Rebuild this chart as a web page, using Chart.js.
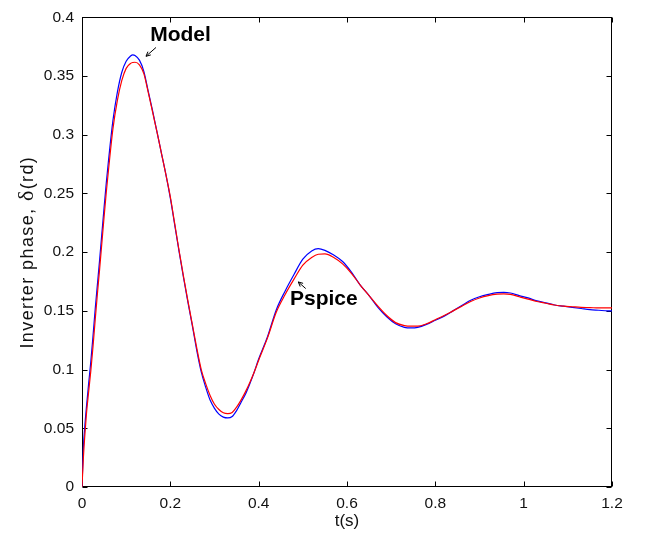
<!DOCTYPE html>
<html>
<head>
<meta charset="utf-8">
<script src="https://cdn.jsdelivr.net/npm/chart.js@4/dist/chart.umd.min.js"></script>
<style>
html,body{margin:0;padding:0;background:#fff;}
canvas{display:block;}
</style>
</head>
<body>
<canvas id="c" width="650" height="542"></canvas>
<script>
// Time base (s)
const time = [0, 0.003, 0.006, 0.01, 0.015, 0.02, 0.025, 0.03, 0.035, 0.04, 0.045, 0.05, 0.055, 0.06, 0.07, 0.08, 0.09, 0.1, 0.11, 0.115, 0.12, 0.13, 0.14, 0.15, 0.16, 0.17, 0.18, 0.19, 0.2, 0.21, 0.22, 0.23, 0.24, 0.25, 0.26, 0.27, 0.28, 0.29, 0.3, 0.31, 0.32, 0.33, 0.34, 0.35, 0.36, 0.37, 0.38, 0.39, 0.4, 0.42, 0.44, 0.46, 0.48, 0.5, 0.52, 0.535, 0.55, 0.57, 0.59, 0.61, 0.63, 0.65, 0.67, 0.69, 0.71, 0.73, 0.745, 0.76, 0.78, 0.8, 0.82, 0.84, 0.86, 0.88, 0.9, 0.92, 0.94, 0.955, 0.97, 0.99, 1.01, 1.03, 1.05, 1.07, 1.09, 1.11, 1.13, 1.15, 1.17, 1.19, 1.2];

// Inverter phase (rd) from the analytical model
const modelPhase = [0, 0.033, 0.05, 0.068, 0.088, 0.107, 0.129, 0.152, 0.173, 0.194, 0.216, 0.238, 0.259, 0.278, 0.312, 0.336, 0.353, 0.3625, 0.367, 0.368, 0.3675, 0.3635, 0.354, 0.337, 0.32, 0.302, 0.284, 0.266, 0.246, 0.223, 0.2, 0.178, 0.157, 0.137, 0.116, 0.098, 0.085, 0.074, 0.067, 0.062, 0.0595, 0.0588, 0.06, 0.065, 0.072, 0.079, 0.088, 0.098, 0.109, 0.128, 0.151, 0.167, 0.181, 0.194, 0.201, 0.203, 0.2015, 0.1975, 0.192, 0.183, 0.172, 0.163, 0.153, 0.145, 0.139, 0.136, 0.1355, 0.136, 0.1385, 0.142, 0.1455, 0.15, 0.1545, 0.159, 0.162, 0.164, 0.1655, 0.1658, 0.1652, 0.163, 0.161, 0.1585, 0.1568, 0.155, 0.154, 0.153, 0.152, 0.151, 0.1505, 0.150, 0.150];

// Inverter phase (rd) from the Pspice simulation
const pspicePhase = [0, 0.024, 0.042, 0.062, 0.081, 0.099, 0.12, 0.143, 0.165, 0.186, 0.208, 0.23, 0.251, 0.27, 0.305, 0.329, 0.346, 0.3565, 0.3607, 0.3615, 0.3617, 0.3595, 0.352, 0.336, 0.319, 0.302, 0.284, 0.266, 0.247, 0.224, 0.201, 0.179, 0.158, 0.138, 0.118, 0.1, 0.088, 0.078, 0.0705, 0.066, 0.0632, 0.0625, 0.0635, 0.068, 0.074, 0.081, 0.089, 0.098, 0.108, 0.127, 0.149, 0.164, 0.177, 0.189, 0.1955, 0.1982, 0.1985, 0.1955, 0.19, 0.182, 0.172, 0.163, 0.154, 0.146, 0.14, 0.1375, 0.137, 0.137, 0.139, 0.1425, 0.146, 0.15, 0.154, 0.158, 0.161, 0.163, 0.1642, 0.1645, 0.164, 0.162, 0.16, 0.158, 0.1565, 0.155, 0.154, 0.1535, 0.153, 0.1528, 0.1525, 0.1525, 0.1525];

const xTicks = [0, 0.2, 0.4, 0.6, 0.8, 1, 1.2];
const xTickLabels = ['0', '0.2', '0.4', '0.6', '0.8', '1', '1.2'];
const yTicks = [0, 0.05, 0.1, 0.15, 0.2, 0.25, 0.3, 0.35, 0.4];
const yTickLabels = ['0', '0.05', '0.1', '0.15', '0.2', '0.25', '0.3', '0.35', '0.4'];

const seriesNames = ['Model', 'Pspice'];
const xTitle = 't(s)';
const yTitleParts = ['Inverter phase, ', '\u03B4', '(rd)'];

// Callouts in data units: label anchor (centre, baseline) and arrow tail -> head
const callouts = [
  { text: seriesNames[0], at: [0.223, 0.3794], from: [0.1675, 0.3743], to: [0.1449, 0.3668] },
  { text: seriesNames[1], at: [0.5475, 0.1549], from: [0.5065, 0.169], to: [0.4897, 0.1746] }
];

const SANS = '"Liberation Sans", Arial, Helvetica, sans-serif';

const framePlugin = {
  id: 'frame',
  beforeDatasetsDraw(chart) {
    const { ctx, chartArea: a, scales: { x, y } } = chart;
    const L = Math.round(a.left) + 0.5, R = Math.round(a.right) - 0.5;
    const T = Math.round(a.top) + 0.5, B = Math.round(a.bottom) - 0.5;
    const tl = 5;
    ctx.save();
    ctx.strokeStyle = '#000';
    ctx.lineWidth = 1;
    ctx.strokeRect(L, T, R - L, B - T);
    ctx.beginPath();
    xTicks.forEach(v => {
      const px = Math.round(x.getPixelForValue(v)) + 0.5;
      ctx.moveTo(px, B); ctx.lineTo(px, B - tl);
      ctx.moveTo(px, T); ctx.lineTo(px, T + tl);
    });
    yTicks.forEach(v => {
      const py = Math.round(y.getPixelForValue(v)) + 0.5;
      ctx.moveTo(L, py); ctx.lineTo(L + tl, py);
      ctx.moveTo(R, py); ctx.lineTo(R - tl, py);
    });
    ctx.stroke();
    ctx.restore();
  },
  afterDatasetsDraw(chart) {
    const { ctx, chartArea: a, scales: { x, y } } = chart;
    ctx.save();
    // callouts
    ctx.fillStyle = '#000';
    ctx.strokeStyle = '#000';
    ctx.lineWidth = 1;
    ctx.font = 'bold 21px ' + SANS;
    ctx.textAlign = 'center';
    ctx.textBaseline = 'alphabetic';
    callouts.forEach(c => {
      ctx.fillText(c.text, x.getPixelForValue(c.at[0]), y.getPixelForValue(c.at[1]));
      const x0 = x.getPixelForValue(c.from[0]), y0 = y.getPixelForValue(c.from[1]);
      const x1 = x.getPixelForValue(c.to[0]), y1 = y.getPixelForValue(c.to[1]);
      const ang = Math.atan2(y1 - y0, x1 - x0);
      const h = 5;
      ctx.beginPath();
      ctx.moveTo(x0, y0); ctx.lineTo(x1, y1);
      ctx.moveTo(x1 - h * Math.cos(ang - 0.45), y1 - h * Math.sin(ang - 0.45));
      ctx.lineTo(x1, y1);
      ctx.lineTo(x1 - h * Math.cos(ang + 0.45), y1 - h * Math.sin(ang + 0.45));
      ctx.stroke();
    });
    // x axis title
    ctx.font = '17px ' + SANS;
    ctx.fillStyle = '#111';
    ctx.fillText(xTitle, (a.left + a.right) / 2, a.bottom + 38.5);
    // y axis title, mixed fonts
    const fonts = ['18px ' + SANS, '22px "Liberation Serif", "DejaVu Serif", serif', '18px ' + SANS];
    ctx.letterSpacing = '1.4px';
    const widths = yTitleParts.map((s, i) => { ctx.font = fonts[i]; return ctx.measureText(s).width; });
    const total = widths.reduce((p, w) => p + w, 0);
    ctx.translate(a.left - 49, (a.top + a.bottom) / 2);
    ctx.rotate(-Math.PI / 2);
    ctx.textAlign = 'left';
    let cx = -total / 2;
    yTitleParts.forEach((s, i) => {
      ctx.font = fonts[i];
      ctx.fillText(s, cx, 0);
      cx += widths[i];
    });
    ctx.restore();
  }
};

const tickFont = { family: SANS, size: 15.5 };

new Chart(document.getElementById('c').getContext('2d'), {
  type: 'line',
  data: {
    datasets: [
      {
        label: seriesNames[0],
        data: time.map((t, i) => ({ x: t, y: modelPhase[i] })),
        borderColor: '#0000ff',
        borderWidth: 1.2,
        pointRadius: 0,
        cubicInterpolationMode: 'monotone',
        order: 1
      },
      {
        label: seriesNames[1],
        data: time.map((t, i) => ({ x: t, y: pspicePhase[i] })),
        borderColor: '#ff0000',
        borderWidth: 1.2,
        pointRadius: 0,
        cubicInterpolationMode: 'monotone',
        order: 0
      }
    ]
  },
  options: {
    responsive: false,
    animation: false,
    devicePixelRatio: 1,
    layout: { padding: { top: 12, right: 38, left: 0, bottom: 0 } },
    plugins: { legend: { display: false }, tooltip: { enabled: false } },
    scales: {
      x: {
        type: 'linear',
        min: 0,
        max: 1.2,
        afterBuildTicks: s => { s.ticks = xTicks.map(v => ({ value: v })); },
        afterFit: s => { s.height = 55; },
        grid: { display: false, drawTicks: false, tickLength: 0 },
        border: { display: false },
        ticks: {
          padding: 7,
          color: '#111',
          font: tickFont,
          maxRotation: 0,
          autoSkip: false,
          callback: (v, i) => xTickLabels[i]
        }
      },
      y: {
        type: 'linear',
        min: 0,
        max: 0.4,
        afterBuildTicks: s => { s.ticks = yTicks.map(v => ({ value: v })); },
        afterFit: s => { s.width = 82; },
        grid: { display: false, drawTicks: false, tickLength: 0 },
        border: { display: false },
        ticks: {
          padding: 8,
          color: '#111',
          font: tickFont,
          autoSkip: false,
          callback: (v, i) => yTickLabels[i]
        }
      }
    }
  },
  plugins: [framePlugin]
});
</script>
</body>
</html>
